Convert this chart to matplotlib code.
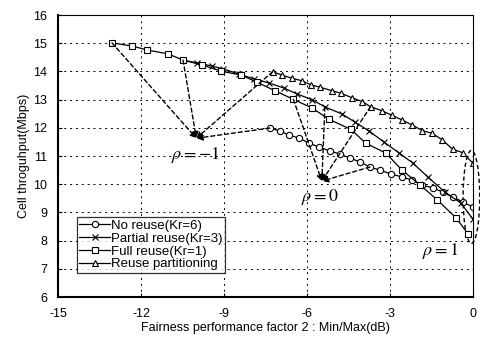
import numpy as np
import matplotlib
matplotlib.use("Agg")
import matplotlib.pyplot as plt
from matplotlib.patches import Ellipse

# fairness (dB) / cell throughput (Mbps), rho = -1 ... 1 in 21 steps
no_reuse_x = [-7.34, -6.98, -6.65, -6.29, -5.93, -5.57, -5.17, -4.81, -4.45, -4.08, -3.72,
              -3.36, -2.96, -2.57, -2.20, -1.84, -1.45, -1.08, -0.72, -0.36, 0.0]
no_reuse_y = [11.99, 11.89, 11.74, 11.64, 11.46, 11.32, 11.18, 11.07, 10.93, 10.79, 10.61,
              10.50, 10.36, 10.26, 10.15, 9.97, 9.87, 9.72, 9.55, 9.37, 9.19]

partial_x = [-10.48, -9.97, -9.43, -9.04, -8.46, -7.91, -7.37, -6.83, -6.36, -5.82, -5.35,
             -4.73, -4.26, -3.76, -3.22, -2.67, -2.17, -1.63, -1.01, -0.43, 0.0]
partial_y = [14.40, 14.30, 14.19, 14.09, 13.91, 13.73, 13.59, 13.41, 13.20, 13.00, 12.74,
             12.49, 12.20, 11.89, 11.50, 11.11, 10.75, 10.26, 9.72, 9.33, 8.77]

full_x = [-13.05, -12.32, -11.78, -11.02, -10.48, -9.79, -9.11, -8.38, -7.81, -7.17, -6.49,
          -5.81, -5.20, -4.40, -3.88, -3.14, -2.55, -1.90, -1.28, -0.59, -0.16]
full_y = [15.01, 14.90, 14.76, 14.62, 14.40, 14.23, 14.01, 13.87, 13.62, 13.32, 13.01,
          12.70, 12.30, 11.94, 11.46, 11.10, 10.49, 9.97, 9.44, 8.79, 8.22]

part_x = [-7.24, -6.91, -6.55, -6.19, -5.85, -5.53, -5.11, -4.75, -4.38, -4.00, -3.70,
          -3.30, -2.94, -2.56, -2.20, -1.82, -1.46, -1.10, -0.73, -0.37, -0.01]
part_y = [13.99, 13.87, 13.76, 13.67, 13.52, 13.44, 13.32, 13.22, 13.07, 12.93, 12.75,
          12.61, 12.45, 12.28, 12.10, 11.90, 11.80, 11.57, 11.24, 11.12, 10.76]

labels = ["No reuse(Kr=6)", "Partial reuse(Kr=3)", "Full reuse(Kr=1)", "Reuse partitioning"]

rho_m1 = (-10.0, 11.63)
rho_0 = (-5.46, 10.11)

plt.rcParams['font.family'] = ['Liberation Sans', 'DejaVu Sans']
plt.rcParams['axes.unicode_minus'] = False
plt.rcParams['mathtext.fontset'] = 'stix'

fig = plt.figure(figsize=(4.8, 3.41), dpi=100)
ax = fig.add_axes([0.121, 0.129, 0.864, 0.827])

series = [(no_reuse_x, no_reuse_y, 'o'), (partial_x, partial_y, 'x'),
          (full_x, full_y, 's'), (part_x, part_y, '^')]
for (xs, ys, m), lab in zip(series, labels):
    ax.plot(xs, ys, color='k', lw=0.9, marker=m, ms=4.5 if m != 'x' else 4,
            mfc='white', mec='k', mew=0.8, label=lab)

# dashed arrows from rho=-1 and rho=0 points on each curve
for xs, ys, m in series:
    ax.annotate('', xy=rho_m1, xytext=(xs[0], ys[0]),
                arrowprops=dict(arrowstyle='-|>', ls=(0, (3, 2)), color='k', lw=1.0,
                                mutation_scale=9, shrinkA=0, shrinkB=0))
    ax.annotate('', xy=rho_0, xytext=(xs[10], ys[10]),
                arrowprops=dict(arrowstyle='-|>', ls=(0, (3, 2)), color='k', lw=1.0,
                                mutation_scale=9, shrinkA=0, shrinkB=0))

ell = Ellipse((-0.05, 9.55), 0.6, 3.3, fill=False, ls=(0, (3, 2)), lw=1.0,
              ec='k', clip_on=False)
ax.add_patch(ell)

ax.text(-10.05, 11.04, r'$\rho=-1$', fontsize=13, ha='center', va='center')
ax.text(-5.53, 9.55, r'$\rho=0$', fontsize=13, ha='center', va='center')
ax.text(-1.16, 7.63, r'$\rho=1$', fontsize=13, ha='center', va='center')

ax.set_xlim(-15, 0)
ax.set_ylim(6, 16)
ax.set_xticks([-15, -12, -9, -6, -3, 0])
ax.set_yticks(range(6, 17))
ax.tick_params(direction='in', length=3, labelsize=9, pad=8)
ax.grid(True, color='k', ls=(0, (2, 4)), lw=0.7)
for s in ['left', 'bottom']:
    ax.spines[s].set_linewidth(1.5)
for s in ['top', 'right']:
    ax.spines[s].set_linewidth(0.8)

ax.set_xlabel('Fairness performance factor 2 : Min/Max(dB)', fontsize=9, labelpad=1)
ax.set_ylabel('Cell throguhput(Mbps)', fontsize=9, labelpad=2)

leg = ax.legend(loc='lower left', bbox_to_anchor=(0.045, 0.085), fontsize=9.5,
                frameon=True, fancybox=False, edgecolor='k', borderpad=0.2,
                labelspacing=0.05, handlelength=2.3, handletextpad=0.1,
                borderaxespad=0)
leg.get_frame().set_linewidth(0.9)

fig.savefig('out.png', dpi=100)
